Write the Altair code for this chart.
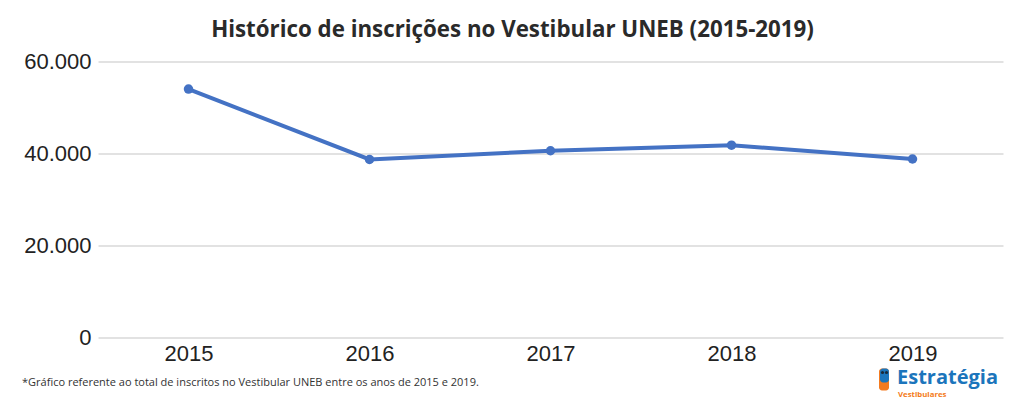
import altair as alt
import pandas as pd

years = ["2015", "2016", "2017", "2018", "2019"]
inscritos = [54000, 38700, 40600, 41800, 38800]
y_ticks = [0, 20000, 40000, 60000]

title_text = "Histórico de inscrições no Vestibular UNEB (2015-2019)"
footnote_text = "*Gráfico referente ao total de inscritos no Vestibular UNEB entre os anos de 2015 e 2019."
logo_main = "Estratégia"
logo_sub = "Vestibulares"

df = pd.DataFrame({"ano": years, "inscritos": inscritos})

W, H = 905, 276

x_enc = alt.X(
    "ano:N",
    sort=years,
    scale=alt.Scale(type="point", padding=0.5),
    axis=alt.Axis(
        title=None, labelAngle=0, domain=False, ticks=False, grid=False,
        labelFont="Liberation Sans", labelFontSize=22, labelColor="#222222",
        labelPadding=6,
    ),
)
y_enc = alt.Y(
    "inscritos:Q",
    scale=alt.Scale(domain=[0, 60000], nice=False),
    axis=alt.Axis(
        title=None, values=y_ticks, format=",d", domain=False, ticks=False,
        gridColor="#d9d9d9", gridWidth=1.5,
        labelFont="Liberation Sans", labelFontSize=22, labelColor="#222222",
        labelPadding=7,
    ),
)

base = alt.Chart(df)
line = base.mark_line(color="#4472c4", strokeWidth=4).encode(x=x_enc, y=y_enc)
pts = base.mark_point(filled=True, opacity=1, color="#4472c4", size=90).encode(x=x_enc, y=y_enc)

foot = alt.Chart(pd.DataFrame({"t": [footnote_text]})).mark_text(
    font="Open Sans", fontSize=11, color="#333333", align="left", baseline="middle"
).encode(text="t:N", x=alt.value(-76), y=alt.value(321.5))

logo1 = alt.Chart(pd.DataFrame({"t": [logo_main]})).mark_text(
    font="Open Sans", fontSize=20, fontWeight="bold", color="#1b75bc", align="left", baseline="alphabetic"
).encode(text="t:N", x=alt.value(799), y=alt.value(322.5))

logo2 = alt.Chart(pd.DataFrame({"t": [logo_sub]})).mark_text(
    font="Open Sans", fontSize=7.8, fontWeight="bold", color="#f47b20", align="left", baseline="alphabetic"
).encode(text="t:N", x=alt.value(800), y=alt.value(335.5))

owl_body = alt.Chart(pd.DataFrame({"k": ["a"]})).mark_rect(color="#f47b20", cornerRadius=3).encode(
    x=alt.value(781), x2=alt.value(791), y=alt.value(307), y2=alt.value(329)
)
owl_head = alt.Chart(pd.DataFrame({"k": ["a"]})).mark_rect(color="#1b75bc", cornerRadius=3).encode(
    x=alt.value(782), x2=alt.value(791), y=alt.value(307), y2=alt.value(321)
)
owl_eyes = alt.Chart(pd.DataFrame({"k": ["a", "b"], "xx": [784.5, 788.5]})).mark_point(
    filled=True, color="#1a2a3a", size=10, opacity=1
).encode(x=alt.X("xx:Q", scale=None), y=alt.value(311))

chart = alt.layer(line, pts, foot, logo1, logo2, owl_body, owl_head, owl_eyes).properties(
    width=W, height=H,
    title=alt.TitleParams(
        title_text, font="Open Sans", fontSize=22.3, fontWeight="bold", color="#2a2a2a",
        anchor="middle", dx=-38, offset=9,
    ),
    autosize=alt.AutoSizeParams(type="none"),
    padding={"left": 90, "top": 53.5, "right": 13, "bottom": 64},
).configure(
    locale={"number": {"decimal": ",", "thousands": ".", "grouping": [3], "currency": ["R$", ""]}},
    view=alt.ViewConfig(stroke="transparent", strokeWidth=0),
)

chart.save("out.html", embed_options={"renderer": "svg", "actions": False})
